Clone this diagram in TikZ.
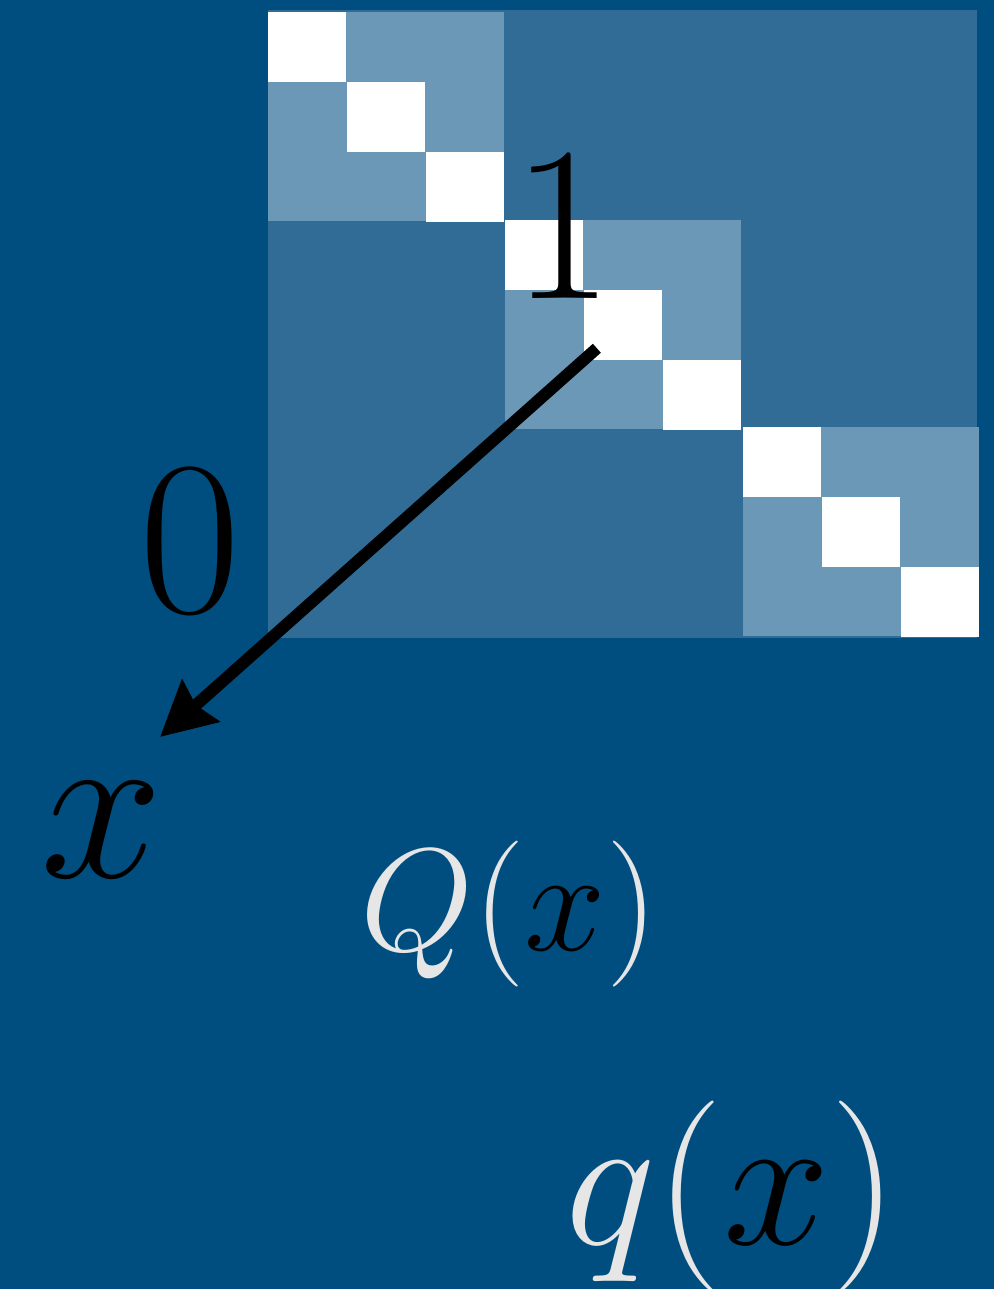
\documentclass[tikz,border=0pt]{standalone}
\definecolor{bgblue}{RGB}{0,78,128}
\definecolor{midblue}{RGB}{48,108,150}
\definecolor{lightblue}{RGB}{108,152,183}
\definecolor{txtgray}{RGB}{230,230,230}
\usepackage{tikz}
\usepackage{amsmath,amssymb}
\usetikzlibrary{arrows.meta,positioning,calc}

\begin{document}
\begin{tikzpicture}[
    block/.style={rectangle, fill=lightblue, minimum width=2.36cm,
                  minimum height=2.09cm, inner sep=0pt},
    cell/.style={rectangle, fill=white, minimum width=0.78cm,
                 minimum height=0.70cm, inner sep=0pt},
    biglabel/.style={anchor=base, font=\Huge, scale=2.52, inner sep=0pt},
    arrow/.style={-{Stealth[length=0.54cm, width=0.55cm, inset=0.06cm]},
                  line width=0.12cm, black}]

% Background
\useasboundingbox (0,0) rectangle (9.94,12.89);
\fill[bgblue] (0,0) rectangle (9.94,12.89);
\fill[midblue] (2.68,6.51) rectangle (9.77,12.79);

% Blocks
\node[block] (b1) at (3.86,11.72) {};
\node[block] (b2) at (6.23,9.64) {};
\node[block] (b3) at (8.61,7.57) {};

% Cells
\node[cell] (c11) at (3.073,12.417) {};
\node[cell] (c12) at (3.860,11.720) {};
\node[cell] (c13) at (4.647,11.023) {};
\node[cell] (c21) at (5.443,10.337) {};
\node[cell] (c22) at (6.230,9.640) {};
\node[cell] (c23) at (7.017,8.943) {};
\node[cell] (c31) at (7.823,8.267) {};
\node[cell] (c32) at (8.610,7.570) {};
\node[cell] (c33) at (9.397,6.873) {};

% Labels
\node[biglabel] (one) at (5.63,9.91) {$1$};
\node[biglabel] (zero) at (1.90,6.77) {$0$};
\node[biglabel] (xlab) at (1.02,4.12) {$x$};
\node[anchor=base, font=\Huge, scale=1.67, inner sep=0pt, text=txtgray]
    (bigq) at (5.09,3.38) {$Q(\textcolor{black}{x})$};
\node[anchor=base, font=\Huge, scale=2.19, inner sep=0pt, text=txtgray]
    (smallq) at (7.32,0.44) {$q(\textcolor{black}{x})$};

% Arrow
\coordinate (tip) at (1.60,5.52);
\draw[arrow, shorten <=0.35cm] (c22.center) -- (tip);
\end{tikzpicture}
\end{document}
